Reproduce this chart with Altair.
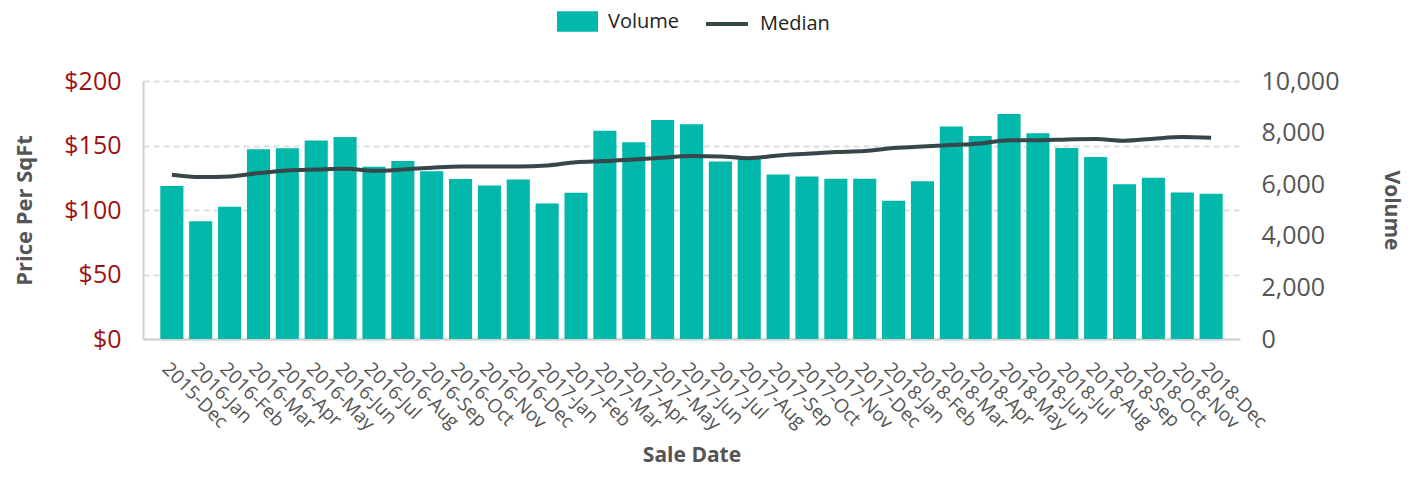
import altair as alt
import pandas as pd

months = ["2015-Dec",
          "2016-Jan", "2016-Feb", "2016-Mar", "2016-Apr", "2016-May", "2016-Jun",
          "2016-Jul", "2016-Aug", "2016-Sep", "2016-Oct", "2016-Nov", "2016-Dec",
          "2017-Jan", "2017-Feb", "2017-Mar", "2017-Apr", "2017-May", "2017-Jun",
          "2017-Jul", "2017-Aug", "2017-Sep", "2017-Oct", "2017-Nov", "2017-Dec",
          "2018-Jan", "2018-Feb", "2018-Mar", "2018-Apr", "2018-May", "2018-Jun",
          "2018-Jul", "2018-Aug", "2018-Sep", "2018-Oct", "2018-Nov", "2018-Dec"]

volume = [5930,
          4560, 5130, 7350, 7390, 7690, 7830, 6680, 6900, 6500, 6200, 5950, 6180,
          5250, 5670, 8070, 7630, 8490, 8320, 6880, 7050, 6380, 6300, 6210, 6210,
          5360, 6110, 8240, 7870, 8720, 7970, 7400, 7050, 6000, 6250, 5680, 5630]

median = [127.3,
          125.5, 126.0, 128.6, 130.7, 131.4, 132.0, 130.4, 131.4, 132.8, 133.8, 133.8, 133.8,
          134.5, 137.1, 137.9, 139.2, 140.5, 141.8, 141.5, 140.2, 142.3, 143.6, 144.9, 145.7,
          148.0, 149.3, 150.3, 151.6, 154.0, 154.0, 154.7, 155.0, 153.7, 155.3, 156.5, 156.0]

df = pd.DataFrame({"month": months, "volume": volume, "median": median})

FONT = "Open Sans"
TEAL = "#01B8AA"
DARK = "#374649"

xenc = alt.X("month:N", sort=months, title="Sale Date",
             scale=alt.Scale(paddingInner=0.2, paddingOuter=0.6),
             axis=alt.Axis(labelAngle=45, labelAlign="left", labelBaseline="top",
                           labelFontSize=19, labelColor="#555555", labelPadding=20,
                           ticks=False, domainColor="#D0D0D0", domainWidth=2,
                           titleFontSize=21, titleFontWeight="bold", titleColor="#555555",
                           titlePadding=11, labelOverlap=False))

bars = alt.Chart(df).transform_calculate(sv="'Volume'").mark_bar().encode(
    x=xenc,
    y=alt.Y("volume:Q", title="Volume",
            scale=alt.Scale(domain=[0, 10000]),
            axis=alt.Axis(orient="right", values=[0, 2000, 4000, 6000, 8000, 10000],
                          format=",d", grid=False, domain=False, ticks=False,
                          labelFontSize=25, labelColor="#555555", labelPadding=21,
                          titleFontSize=21, titleFontWeight="bold", titleColor="#555555",
                          titlePadding=42)),
    fill=alt.Fill("sv:N",
                  scale=alt.Scale(domain=["Volume"], range=[TEAL]),
                  legend=alt.Legend(title=None, orient="none", legendX=414, legendY=-80,
                                    symbolType="M-1,-0.5H1V0.5H-1Z", symbolSize=1681,
                                    symbolStrokeWidth=0, symbolOpacity=1)),
)

line = alt.Chart(df).transform_calculate(sm="'Median'").mark_line(
    strokeWidth=4, interpolate="monotone").encode(
    x=xenc,
    y=alt.Y("median:Q", title="Price Per SqFt",
            scale=alt.Scale(domain=[0, 200]),
            axis=alt.Axis(orient="left", values=[0, 50, 100, 150, 200], format="$,d",
                          grid=True, gridDash=[6, 4], gridColor="#DDDDDD", gridWidth=2,
                          domain=True, domainColor="#D0D0D0", domainWidth=2, ticks=False,
                          labelFontSize=25, labelColor="#9E1111", labelPadding=22,
                          titleFontSize=22, titleFontWeight="bold", titleColor="#555555",
                          titlePadding=27)),
    stroke=alt.Stroke("sm:N",
                      scale=alt.Scale(domain=["Median"], range=[DARK]),
                      legend=alt.Legend(title=None, orient="none", legendX=561, legendY=-80,
                                        symbolType="stroke", symbolSize=1764,
                                        symbolStrokeWidth=4, symbolOpacity=1)),
)

chart = alt.layer(bars, line).resolve_scale(y="independent").properties(
    width=1097, height=258,
    autosize=alt.AutoSizeParams(type="none"),
    padding={"left": 135, "top": 73, "right": 173, "bottom": 130},
).configure(font=FONT).configure_view(stroke=None).configure_legend(
    labelFontSize=20, labelColor="#222222", labelFont=FONT, labelOffset=10, padding=0
)

chart.save("out.html", embed_options={"renderer": "svg", "actions": False})
